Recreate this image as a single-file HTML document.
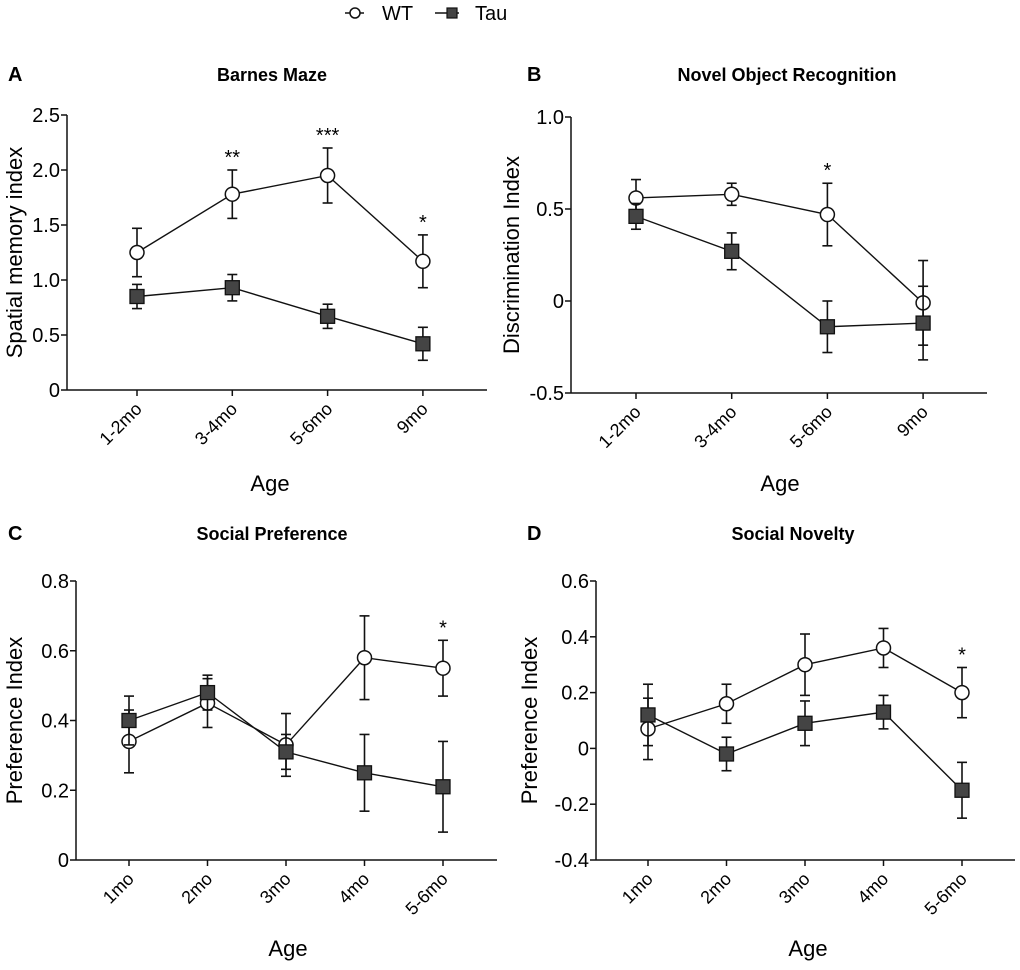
<!DOCTYPE html>
<html><head><meta charset="utf-8"><style>
body{margin:0;background:#fff;}
svg{display:block;font-family:"Liberation Sans",Arial,sans-serif;}
</style></head><body>
<svg id="fig" width="1020" height="970" viewBox="0 0 1020 970">
<g>
<g><line x1="345" y1="13" x2="364" y2="13" stroke="#111" stroke-width="1.5"/><circle cx="355" cy="13" r="5" fill="#fff" stroke="#111" stroke-width="1.5"/><text x="382" y="20" font-size="20">WT</text></g>
<g><line x1="435" y1="13" x2="459" y2="13" stroke="#111" stroke-width="1.5"/><rect x="447" y="8" width="10" height="10" fill="#444" stroke="#111" stroke-width="1.2"/><text x="475" y="20" font-size="20">Tau</text></g>
</g>
</svg>
<script>
// Panel A: Barnes Maze
const catsA=["1-2mo","3-4mo","5-6mo","9mo"];
const wtA=[1.25,1.78,1.95,1.17];
const wtErrA=[0.22,0.22,0.25,0.24];
const tauA=[0.85,0.93,0.67,0.42];
const tauErrA=[0.11,0.12,0.11,0.15];
const ticksA=[0,0.5,1.0,1.5,2.0,2.5];
const tickLabelsA=["0","0.5","1.0","1.5","2.0","2.5"];
const starsA=["","**","***","*"];
// Panel B: Novel Object Recognition
const catsB=["1-2mo","3-4mo","5-6mo","9mo"];
const wtB=[0.56,0.58,0.47,-0.01];
const wtErrB=[0.10,0.06,0.17,0.23];
const tauB=[0.46,0.27,-0.14,-0.12];
const tauErrB=[0.07,0.10,0.14,0.20];
const ticksB=[-0.5,0,0.5,1.0];
const tickLabelsB=["-0.5","0","0.5","1.0"];
const starsB=["","","*",""];
// Panel C: Social Preference
const catsC=["1mo","2mo","3mo","4mo","5-6mo"];
const wtC=[0.34,0.45,0.33,0.58,0.55];
const wtErrC=[0.09,0.07,0.09,0.12,0.08];
const tauC=[0.40,0.48,0.31,0.25,0.21];
const tauErrC=[0.07,0.05,0.05,0.11,0.13];
const ticksC=[0,0.2,0.4,0.6,0.8];
const tickLabelsC=["0","0.2","0.4","0.6","0.8"];
const starsC=["","","","","*"];
// Panel D: Social Novelty
const catsD=["1mo","2mo","3mo","4mo","5-6mo"];
const wtD=[0.07,0.16,0.30,0.36,0.20];
const wtErrD=[0.11,0.07,0.11,0.07,0.09];
const tauD=[0.12,-0.02,0.09,0.13,-0.15];
const tauErrD=[0.11,0.06,0.08,0.06,0.10];
const ticksD=[-0.4,-0.2,0,0.2,0.4,0.6];
const tickLabelsD=["-0.4","-0.2","0","0.2","0.4","0.6"];
const starsD=["","","","","*"];

const NS="http://www.w3.org/2000/svg";
const svg=document.getElementById('fig');
function mk(tag,attrs,parent){const e=document.createElementNS(NS,tag);for(const k in attrs)e.setAttribute(k,attrs[k]);(parent||svg).appendChild(e);return e;}

function panel(o){
  const g=mk('g',{});
  
  
  const ymin=o.ticks[0],ymax=o.ticks[o.ticks.length-1];
  const y=v=>o.yb+(v-ymin)/(ymax-ymin)*(o.yt-o.yb);
  const x=i=>o.x0+i*o.dx;
  const L=mk('text',{x:o.lx,y:o.ty,'font-size':20,'font-weight':'bold'},g);L.textContent=o.letter;
  
  
  const T=mk('text',{x:o.tx,y:o.ty,'font-size':18,'font-weight':'bold','text-anchor':'middle'},g);T.textContent=o.title;
  
  
  const ya=mk('line',{x1:o.ax,y1:o.yt,x2:o.ax,y2:o.yb,stroke:'#111','stroke-width':1.5},g);
  
  
  const xa=mk('line',{x1:o.ax,y1:o.yb,x2:o.xe,y2:o.yb,stroke:'#111','stroke-width':1.5},g);
  
  
  o.ticks.forEach((t,i)=>{
    mk('line',{x1:o.ax-6,y1:y(t),x2:o.ax,y2:y(t),stroke:'#111','stroke-width':1.5},g);
    const tl=mk('text',{x:o.ax-7,y:y(t)+7,'font-size':20,'text-anchor':'end'},g);tl.textContent=o.tickLabels[i];
    
    
  });
  o.cats.forEach((c,i)=>{
    mk('line',{x1:x(i),y1:o.yb,x2:x(i),y2:o.yb+6,stroke:'#111','stroke-width':1.5},g);
    const tl=mk('text',{x:x(i)+6,y:o.yb+20,'font-size':18,'text-anchor':'end',transform:`rotate(-45 ${x(i)+6} ${o.yb+20})`},g);tl.textContent=c;
    
    
  });
  const yl=mk('text',{x:0,y:0,'font-size':22,'text-anchor':'middle',transform:`translate(${o.ylx},${(o.yt+o.yb)/2}) rotate(-90)`},g);yl.textContent=o.ylabel;
  
  
  const xl=mk('text',{x:o.xlx,y:o.xly,'font-size':22,'text-anchor':'middle'},g);xl.textContent='Age';
  
  
  [[o.wt,o.wtErr,'wt'],[o.tau,o.tauErr,'tau']].forEach(([vals,errs,nm])=>{
    const sg=mk('g',{},g);
    
    
    vals.forEach((v,i)=>{
      const e=errs[i];
      mk('line',{x1:x(i),y1:y(v-e),x2:x(i),y2:y(v+e),stroke:'#111','stroke-width':1.6},sg);
      mk('line',{x1:x(i)-5,y1:y(v-e),x2:x(i)+5,y2:y(v-e),stroke:'#111','stroke-width':1.6},sg);
      mk('line',{x1:x(i)-5,y1:y(v+e),x2:x(i)+5,y2:y(v+e),stroke:'#111','stroke-width':1.6},sg);
    });
    mk('polyline',{points:vals.map((v,i)=>x(i)+','+y(v)).join(' '),fill:'none',stroke:'#111','stroke-width':1.4},sg);
    vals.forEach((v,i)=>{
      let m;
      if(nm==='wt') m=mk('circle',{cx:x(i),cy:y(v),r:7,fill:'#fff',stroke:'#111','stroke-width':1.5},sg);
      else m=mk('rect',{x:x(i)-7,y:y(v)-7,width:14,height:14,fill:'#444',stroke:'#111','stroke-width':1.3},sg);
      
      
    });
  });
  o.stars.forEach((s,i)=>{
    if(!s)return;
    const top=Math.max(o.wt[i]+o.wtErr[i],o.tau[i]+o.tauErr[i]);
    const st=mk('text',{x:x(i),y:y(top)-6,'font-size':20,'text-anchor':'middle'},g);st.textContent=s;
    
    
  });
}
panel({id:'panel-a-barnes-maze',letter:'A',title:'Barnes Maze',lx:8,tx:272,ty:81,ax:67,xe:487,yt:115,yb:390,x0:137,dx:95.3,cats:catsA,wt:wtA,wtErr:wtErrA,tau:tauA,tauErr:tauErrA,ticks:ticksA,tickLabels:tickLabelsA,stars:starsA,ylabel:'Spatial memory index',ylx:22,xlx:270,xly:491});
panel({id:'panel-b-novel-object',letter:'B',title:'Novel Object Recognition',lx:527,tx:787,ty:81,ax:571,xe:987,yt:117,yb:393,x0:636,dx:95.7,cats:catsB,wt:wtB,wtErr:wtErrB,tau:tauB,tauErr:tauErrB,ticks:ticksB,tickLabels:tickLabelsB,stars:starsB,ylabel:'Discrimination Index',ylx:519,xly:491,xlx:780});
panel({id:'panel-c-social-preference',letter:'C',title:'Social Preference',lx:8,tx:272,ty:540,ax:76,xe:497,yt:581,yb:860,x0:129,dx:78.5,cats:catsC,wt:wtC,wtErr:wtErrC,tau:tauC,tauErr:tauErrC,ticks:ticksC,tickLabels:tickLabelsC,stars:starsC,ylabel:'Preference Index',ylx:22,xlx:288,xly:956});
panel({id:'panel-d-social-novelty',letter:'D',title:'Social Novelty',lx:527,tx:793,ty:540,ax:596,xe:1015,yt:581,yb:860,x0:648,dx:78.5,cats:catsD,wt:wtD,wtErr:wtErrD,tau:tauD,tauErr:tauErrD,ticks:ticksD,tickLabels:tickLabelsD,stars:starsD,ylabel:'Preference Index',ylx:537,xlx:808,xly:956});
</script>
</body></html>
